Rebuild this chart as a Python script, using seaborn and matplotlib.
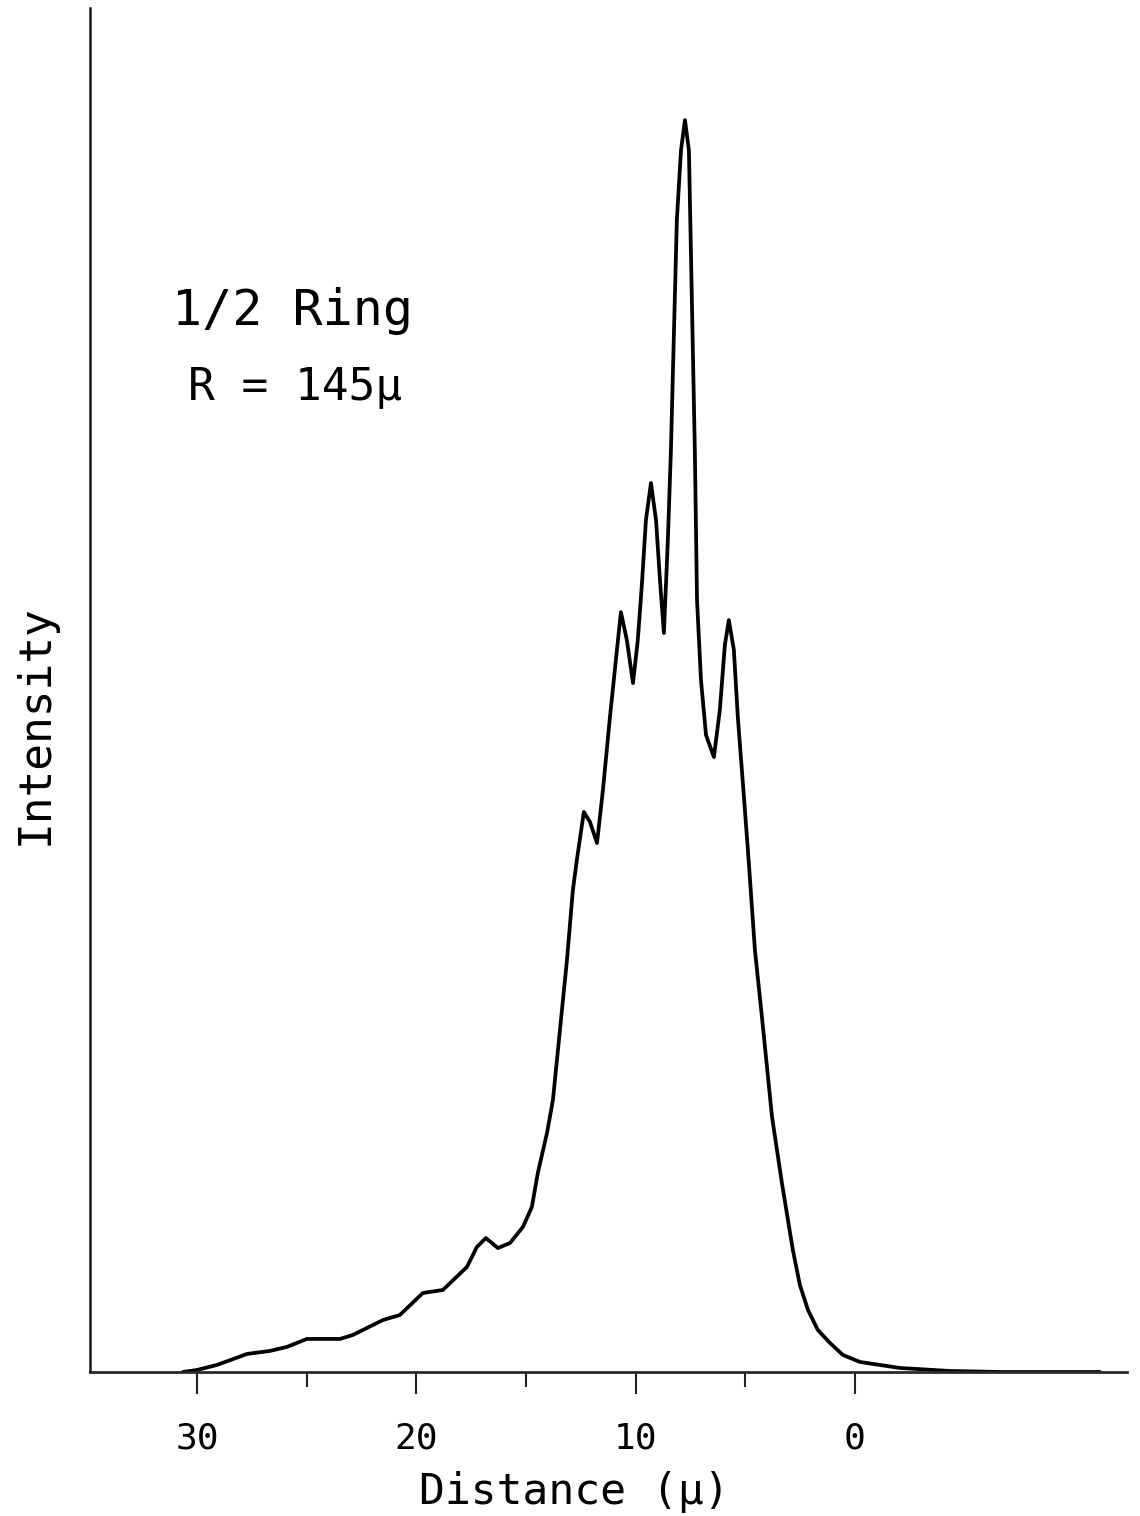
import matplotlib
matplotlib.use("Agg")
import matplotlib.pyplot as plt
import seaborn as sns
import pandas as pd

# Traced intensity profile (distance in microns, intensity in arbitrary units, peak = 100)
distance = [30.64, 30.00, 29.09, 27.72, 26.68, 25.90, 24.99, 23.48, 22.89, 21.52,
            20.75, 19.70, 18.79, 17.69, 17.24, 16.83, 16.28, 15.73, 15.14, 14.73,
            14.46, 14.04, 13.77, 13.45, 13.13, 12.86, 12.68, 12.36, 12.08, 11.76,
            11.49, 11.17, 10.90, 10.67, 10.40, 10.12, 9.90, 9.71, 9.53, 9.30,
            9.07, 8.89, 8.71, 8.53, 8.39, 8.25, 8.12, 7.93, 7.75, 7.57,
            7.48, 7.39, 7.30, 7.20, 7.02, 6.79, 6.43, 6.16, 5.93, 5.75,
            5.52, 5.34, 5.11, 4.88, 4.56, 4.24, 3.78, 3.33, 2.83, 2.51,
            2.14, 1.69, 1.14, 0.55, -0.23, -2.05, -4.33, -6.61, -11.17]
intensity = [0.0, 0.16, 0.56, 1.44, 1.68, 2.00, 2.64, 2.64, 2.96, 4.15,
             4.55, 6.31, 6.55, 8.39, 9.98, 10.70, 9.90, 10.30, 11.58, 13.18,
             15.89, 19.09, 21.73, 27.32, 32.91, 38.50, 40.89, 44.73, 43.93, 42.25,
             46.49, 52.32, 56.87, 60.70, 58.47, 55.03, 58.47, 63.02, 68.05, 71.01,
             68.05, 63.26, 59.03, 66.45, 73.64, 83.23, 92.01, 97.60, 100.0, 97.60,
             89.62, 81.63, 73.64, 61.66, 55.27, 50.88, 49.12, 52.88, 58.07, 60.06,
             57.67, 52.32, 47.04, 41.69, 33.71, 28.35, 20.37, 15.10, 9.74, 6.95,
             4.95, 3.35, 2.32, 1.36, 0.80, 0.32, 0.08, 0.0, 0.0]

major_ticks = [30, 20, 10, 0]
minor_ticks = [25, 15, 5]

df = pd.DataFrame({"distance": distance, "intensity": intensity})

sns.set_style("white")
plt.rcParams["font.family"] = ["DejaVu Sans Mono", "DejaVu Sans"]
plt.rcParams["text.color"] = "black"
plt.rcParams["xtick.color"] = "black"

fig = plt.figure(figsize=(11.4, 15.16), dpi=100)
ax = fig.add_axes([0.0789, 0.095, 0.9096, 0.8997])

sns.lineplot(data=df, x="distance", y="intensity", estimator=None,
             color="black", linewidth=2.7, ax=ax)

ax.set_xlim(34.88, -12.40)
ax.set_ylim(0, 108.95)

ax.set_xticks(major_ticks)
ax.set_xticks(minor_ticks, minor=True)
ax.set_xticklabels([str(t) for t in major_ticks], fontsize=26, color="black")
ax.tick_params(axis="x", which="major", direction="out", length=16, width=1.5,
               color="#222222", pad=20, bottom=True)
ax.tick_params(axis="x", which="minor", direction="out", length=11, width=1.5,
               color="#222222", bottom=True)
ax.set_yticks([])
ax.set_xlabel("")
ax.set_ylabel("")

for side in ["top", "right"]:
    ax.spines[side].set_visible(False)
ax.spines["left"].set_linewidth(1.8)
ax.spines["bottom"].set_linewidth(2.0)
ax.spines["left"].set_color("#1a1a1a")
ax.spines["bottom"].set_color("#2a2a2a")

fig.text(0.504, 0.008, "Distance (μ)", fontsize=31, ha="center", va="baseline")
fig.text(0.031, 0.522, "Intensity", fontsize=32, rotation=90, ha="center", va="center")
fig.text(0.151, 0.7856, "1/2 Ring", fontsize=36, ha="left", va="baseline")
fig.text(0.165, 0.736, "R = 145μ", fontsize=32, ha="left", va="baseline")

fig.savefig("out.png", dpi=100, facecolor="white")
